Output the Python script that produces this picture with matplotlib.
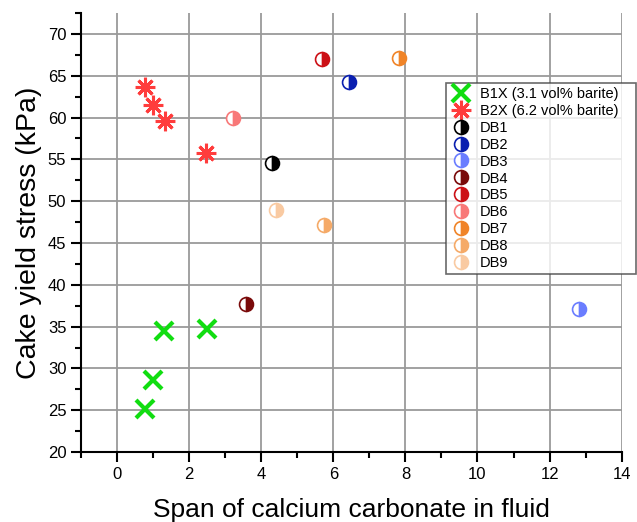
import matplotlib
matplotlib.use("Agg")
import matplotlib.pyplot as plt
from matplotlib.ticker import MultipleLocator

plt.rcParams['font.family'] = ['Liberation Sans', 'DejaVu Sans']

b1x_x = [0.78, 1.0, 1.30, 2.50]
b1x_y = [25.2, 28.6, 34.5, 34.7]
b2x_x = [0.78, 1.0, 1.33, 2.47]
b2x_y = [63.7, 61.5, 59.6, 55.8]

db_names = ["DB1", "DB2", "DB3", "DB4", "DB5", "DB6", "DB7", "DB8", "DB9"]
db_x = [4.30, 6.43, 12.81, 3.58, 5.68, 3.22, 7.82, 5.74, 4.41]
db_y = [54.6, 64.3, 37.1, 37.7, 67.0, 60.0, 67.1, 47.2, 49.0]
db_colors = ["#000000", "#0a1fb0", "#6a7dff", "#7a0a0a", "#cc1016",
             "#f87878", "#f08428", "#f5aa68", "#f9caa2"]

fig = plt.figure(figsize=(6.37, 5.22), dpi=100)
ax = fig.add_axes([0.127, 0.134, 0.849, 0.841])

ax.plot(b1x_x, b1x_y, linestyle='none', marker='x', color='#11dd11',
        markersize=13, markeredgewidth=3, label='B1X (3.1 vol% barite)', zorder=3)
ax.plot(b2x_x, b2x_y, linestyle='none', marker=(8, 2, 0), color='#ff3c3c',
        markersize=14, markeredgewidth=2.2, label='B2X (6.2 vol% barite)', zorder=3)
for n, x, y, c in zip(db_names, db_x, db_y, db_colors):
    ax.plot([x], [y], linestyle='none', marker='o', markersize=10,
            fillstyle='right', markerfacecolor=c, markerfacecoloralt='white',
            markeredgecolor=c, markeredgewidth=1.2, label=n, zorder=3)

ax.set_xlim(-1, 14)
ax.set_ylim(20, 72.5)
ax.xaxis.set_minor_locator(MultipleLocator(1))
ax.yaxis.set_minor_locator(MultipleLocator(2.5))
ax.set_yticks([20, 25, 30, 35, 40, 45, 50, 55, 60, 65, 70])
ax.set_xticks([0, 2, 4, 6, 8, 10, 12, 14])

ax.grid(True, which='major', color='#9a9a9a', linewidth=1.3, zorder=0)
ax.spines['top'].set_visible(False)
ax.spines['right'].set_visible(False)
for s in ['left', 'bottom']:
    ax.spines[s].set_linewidth(1.5)
ax.tick_params(which='major', direction='out', length=7, width=1.5, labelsize=12)
ax.tick_params(which='minor', direction='out', length=4, width=1.5)

ax.set_xlabel('Span of calcium carbonate in fluid', fontsize=19, labelpad=12)
ax.set_ylabel('Cake yield stress (kPa)', fontsize=20.5, labelpad=4)

leg_h = 189 / 439
leg = ax.legend(loc='upper left', bbox_to_anchor=(0.675, 0.84 - leg_h, 0.351, leg_h),
                mode='expand', fontsize=10.5,
                frameon=True, fancybox=False, edgecolor='#444444',
                handletextpad=0.6, borderpad=0.25, labelspacing=0.2,
                handlelength=1.5, borderaxespad=0)
leg.get_frame().set_linewidth(1.2)
leg.set_zorder(5)

fig.savefig('out.png', dpi=100)
